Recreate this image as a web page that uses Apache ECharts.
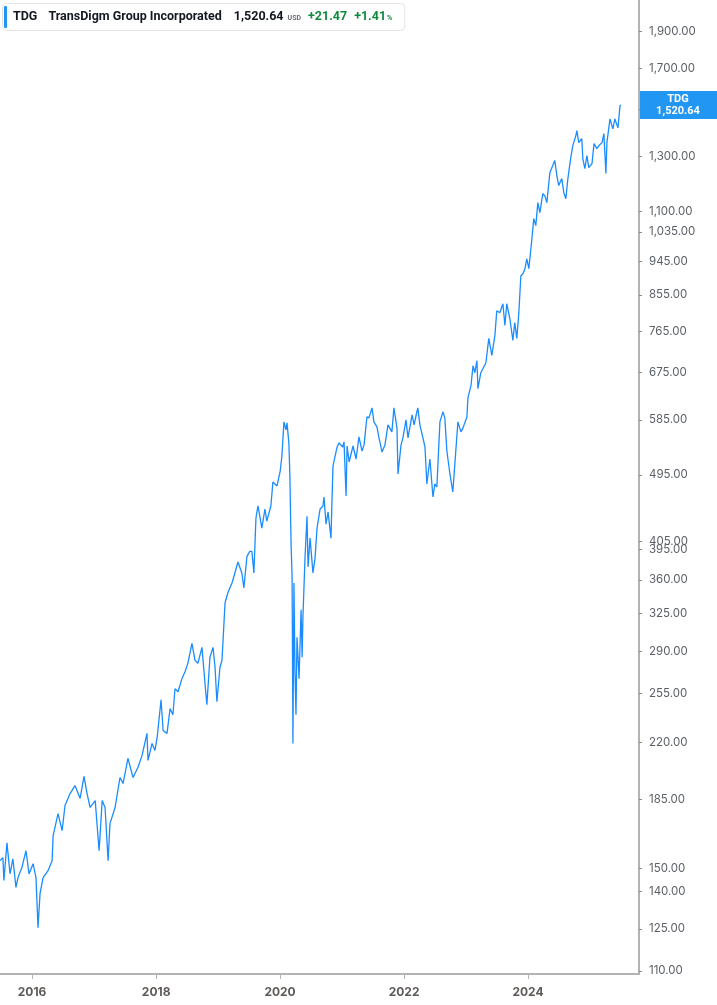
<!DOCTYPE html>
<html><head><meta charset="utf-8">
<script src="https://cdn.jsdelivr.net/npm/echarts@6/dist/echarts.min.js"></script>
<style>html,body{margin:0;padding:0;background:#fff}#c{width:717px;height:1005px}</style>
</head><body><div id="c"></div>
<script>
const ticker = 'TDG';
const company = 'TransDigm Group Incorporated';
const lastPriceText = '1,520.64';
const changeText = '+21.47';
const changePctText = '+1.41';

const dates = [
'2015-06-26','2015-07-13','2015-07-19','2015-08-06','2015-08-24','2015-09-10','2015-09-28','2015-10-10','2015-11-02','2015-11-26','2015-12-14',
'2016-01-07','2016-01-24','2016-02-05','2016-02-17','2016-03-06','2016-04-04','2016-04-28','2016-05-04','2016-06-02','2016-06-26','2016-07-13','2016-08-12','2016-09-10','2016-10-10','2016-11-02','2016-11-20','2016-12-08',
'2017-01-07','2017-01-24','2017-01-30','2017-02-17','2017-03-06','2017-03-24','2017-04-04','2017-05-04','2017-06-02','2017-06-20','2017-07-19','2017-08-18','2017-09-16','2017-10-10','2017-11-08','2017-11-14','2017-12-08','2017-12-25',
'2018-01-07','2018-01-30','2018-02-11','2018-03-06','2018-03-24','2018-04-10','2018-04-22','2018-05-10','2018-06-02','2018-06-20','2018-07-07','2018-07-31','2018-08-18','2018-09-04','2018-09-28','2018-10-15','2018-10-27','2018-11-14','2018-12-02','2018-12-14','2018-12-25',
'2019-01-12','2019-01-24','2019-02-11','2019-03-01','2019-03-24','2019-04-10','2019-04-28','2019-05-21','2019-06-02','2019-06-20','2019-07-07','2019-07-19','2019-07-31','2019-08-12','2019-08-24','2019-09-16','2019-10-04','2019-10-15','2019-11-08','2019-11-20','2019-12-14',
'2020-01-02','2020-01-12','2020-01-24','2020-02-05','2020-02-11','2020-02-22','2020-02-28','2020-03-06','2020-03-12','2020-03-17','2020-03-23','2020-03-29','2020-04-04','2020-04-10','2020-04-22','2020-05-04','2020-05-10','2020-05-15','2020-05-27','2020-06-08','2020-06-14','2020-06-26','2020-07-13','2020-07-25','2020-08-06','2020-08-24','2020-09-10','2020-09-16','2020-09-28','2020-10-10','2020-10-27','2020-11-02','2020-11-08','2020-12-02','2020-12-14',
'2021-01-04','2021-01-12','2021-01-24','2021-01-30','2021-02-11','2021-02-22','2021-03-06','2021-03-24','2021-04-10','2021-04-28','2021-05-10','2021-05-27','2021-06-08','2021-06-26','2021-07-07','2021-07-25','2021-08-06','2021-08-24','2021-09-10','2021-09-28','2021-10-21','2021-11-02','2021-11-20','2021-11-26','2021-12-14','2021-12-25',
'2022-01-12','2022-01-24','2022-02-17','2022-03-01','2022-03-17','2022-03-23','2022-04-04','2022-04-22','2022-05-04','2022-05-15','2022-06-02','2022-06-20','2022-07-01','2022-07-13','2022-07-31','2022-08-18','2022-08-29','2022-09-10','2022-09-28','2022-10-15','2022-10-27','2022-11-14','2022-12-02','2022-12-14',
'2023-01-06','2023-01-12','2023-01-30','2023-02-11','2023-02-22','2023-03-06','2023-03-12','2023-03-29','2023-04-10','2023-04-28','2023-05-15','2023-06-02','2023-06-20','2023-07-01','2023-07-19','2023-08-06','2023-08-18','2023-08-29','2023-09-16','2023-10-04','2023-10-15','2023-10-27','2023-11-08','2023-11-20','2023-12-02','2023-12-14','2023-12-25',
'2024-01-06','2024-01-24','2024-02-04','2024-02-16','2024-02-28','2024-03-11','2024-03-28','2024-04-09','2024-04-21','2024-05-09','2024-05-26','2024-06-07','2024-06-19','2024-06-30','2024-07-18','2024-07-30','2024-08-11','2024-08-23','2024-09-09','2024-09-21','2024-10-09','2024-10-15','2024-10-26','2024-11-13','2024-11-19','2024-12-01','2024-12-13','2024-12-24',
'2025-01-12','2025-01-24','2025-02-10','2025-02-22','2025-03-12','2025-03-23','2025-04-04','2025-04-10','2025-04-28','2025-05-15','2025-05-27','2025-06-14','2025-06-26','2025-07-01'
];

const prices = [
153.7,155.1,144.7,162.3,147.7,154.6,141.7,146.0,150.5,158.4,147.7,
152.3,146.0,125.4,139.2,146.0,149.1,153.7,165.8,177.3,168.4,181.7,188.4,193.0,185.6,198.4,188.4,180.6,
184.4,164.8,158.4,184.4,180.6,153.7,172.0,180.6,197.8,194.2,209.6,197.8,204.0,211.5,226.1,208.3,219.3,214.7,
223.4,250.4,228.1,226.1,243.7,239.3,258.9,256.5,266.9,272.6,279.6,297.1,282.2,279.6,293.5,264.4,246.6,284.8,293.5,276.3,248.9,
276.3,282.2,336.0,347.1,356.7,367.7,380.2,367.7,351.4,386.7,392.6,392.6,367.7,434.2,450.6,421.3,446.5,430.3,450.6,484.6,478.8,
501.0,524.3,581.5,567.5,579.7,545.6,493.5,401.3,363.3,219.3,356.7,272.6,239.3,302.6,266.9,329.0,284.8,322.1,384.4,436.9,374.5,408.7,367.7,384.4,421.3,446.5,450.6,463.1,426.4,442.5,408.7,457.5,508.7,538.8,545.6,
538.8,547.3,464.5,540.5,514.9,511.8,540.5,519.6,555.6,532.3,542.3,590.3,588.5,606.7,581.5,572.7,553.9,530.7,542.3,576.2,564.1,606.7,571.0,496.5,542.3,553.9,
585.0,553.9,593.9,576.2,599.4,606.7,576.2,553.9,538.8,481.7,519.6,463.1,481.7,477.3,581.5,599.4,588.5,532.3,496.5,470.2,511.8,581.5,564.1,571.0,
590.3,625.3,648.9,689.5,675.0,700.0,643.1,675.0,683.2,695.8,748.9,711.4,755.8,814.5,809.6,832.0,779.0,832.0,795.0,744.4,786.1,748.9,809.6,905.8,911.3,925.2,953.6,
925.2,1013.3,1076.9,1054.3,1130.4,1096.7,1161.7,1154.6,1130.4,1238.5,1265.0,1284.3,1227.3,1190.6,1216.2,1165.2,1144.2,1216.2,1296.1,1344.1,1385.4,1406.7,1356.3,1372.9,1292.1,1253.6,1303.9,1257.4,
1272.7,1352.2,1331.9,1344.1,1356.3,1393.9,1234.7,1356.3,1457.5,1414.0,1457.5,1418.3,1516.0,1520.64
];

const yTicks = [110,125,140,150,185,220,255,290,325,360,395,405,495,585,675,765,855,945,1035,1100,1300,1500,1700,1900];
const xTicks = ['2016-01-01','2018-01-01','2020-01-01','2022-01-01','2024-01-01'];
const xRange = ['2015-06-26','2025-10-16'];

const BLUE = '#2196F3';
const LINE = '#1a8cff';
const AXIS = '#b3b3b3';
const FONT = 'Inter, Roboto, sans-serif';
const HFONT = 'Roboto, "Liberation Sans", sans-serif';
const GREEN = '#0f8a3c';

const chart = echarts.init(document.getElementById('c'), null, {renderer: 'canvas'});
const toTs = s => Date.parse(s + 'T00:00:00Z');
const seriesData = dates.map((d, i) => [toTs(d), prices[i]]);
const xTickTs = xTicks.map(toTs);

function fmtNum(v) {
  const r = Math.round(v * 100) / 100;
  return r.toLocaleString('en-US', {minimumFractionDigits: 2, maximumFractionDigits: 2});
}

chart.setOption({
  animation: false,
  backgroundColor: '#fff',
  grid: {left: 0, right: 78, top: 0, bottom: 31, containLabel: false},
  xAxis: {
    type: 'value',
    min: toTs(xRange[0]),
    max: toTs(xRange[1]),
    axisLine: {show: true, lineStyle: {color: AXIS, width: 2}},
    axisTick: {show: true, customValues: xTickTs, length: 5, lineStyle: {color: AXIS, width: 1}},
    axisLabel: {
      customValues: xTickTs,
      formatter: v => String(new Date(v).getUTCFullYear()),
      color: '#5e5a58', fontWeight: 'bold', fontSize: 12, fontFamily: FONT, margin: 12
    },
    splitLine: {show: false}
  },
  yAxis: {
    type: 'log',
    position: 'right',
    min: 109,
    max: 2090,
    axisLine: {show: true, lineStyle: {color: AXIS, width: 2}},
    axisTick: {show: true, customValues: yTicks, length: 3, lineStyle: {color: '#8a8a8a', width: 1}},
    axisLabel: {
      customValues: yTicks,
      formatter: v => fmtNum(v),
      color: '#5b5f66', fontSize: 11.5, fontFamily: FONT, margin: 10
    },
    splitLine: {show: false}
  },
  series: [{
    type: 'line',
    data: seriesData,
    showSymbol: false,
    symbol: 'none',
    clip: true,
    lineStyle: {color: LINE, width: 1.3},
    z: 2
  }]
});

// header layout: measure text so pieces sit side by side
const mctx = document.createElement('canvas').getContext('2d');
function w(text, font) { mctx.font = font; return mctx.measureText(text).width; }
const bigF = 'bold 12.5px ' + HFONT;
const smallF = 'bold 7px ' + HFONT;
const pieces = [
  {text: ticker, font: bigF, fill: '#131722', gap: 11, dy: 0},
  {text: company, font: bigF, fill: '#131722', gap: 12, dy: 0},
  {text: lastPriceText, font: bigF, fill: '#131722', gap: 4, dy: 0},
  {text: 'USD', font: smallF, fill: '#6a6d78', gap: 7, dy: 1.5},
  {text: changeText, font: bigF, fill: GREEN, gap: 7, dy: 0},
  {text: changePctText, font: bigF, fill: GREEN, gap: 1, dy: 0},
  {text: '%', font: smallF, fill: GREEN, gap: 0, dy: 1.5}
];
let cx = 13;
const headerEls = [];
pieces.forEach(p => {
  headerEls.push({type: 'text', z: 101, x: cx, y: 17 + p.dy, style: {text: p.text, fill: p.fill, font: p.font, verticalAlign: 'middle'}});
  cx += w(p.text, p.font) + p.gap;
});
const boxW = Math.max(400, cx + 10);

const lastVal = prices[prices.length - 1];
const ly = chart.convertToPixel({yAxisIndex: 0}, lastVal);

chart.setOption({
  graphic: [
    {type: 'rect', z: 100, shape: {x: 2.5, y: 3.5, width: boxW, height: 27, r: 4}, style: {fill: '#fff', stroke: '#e3e3e3', lineWidth: 1}},
    {type: 'rect', z: 101, shape: {x: 4, y: 6, width: 3, height: 22, r: 1}, style: {fill: BLUE}}
  ].concat(headerEls).concat([
    {type: 'rect', z: 100, shape: {x: 640, y: ly - 14, width: 77, height: 28}, style: {fill: BLUE}},
    {type: 'text', z: 101, x: 678, y: ly - 6, style: {text: ticker, fill: '#fff', font: 'bold 11px ' + HFONT, align: 'center', verticalAlign: 'middle'}},
    {type: 'text', z: 101, x: 678, y: ly + 6.5, style: {text: lastPriceText, fill: '#fff', font: 'bold 11px ' + HFONT, align: 'center', verticalAlign: 'middle'}}
  ])
});
</script>
</body></html>
